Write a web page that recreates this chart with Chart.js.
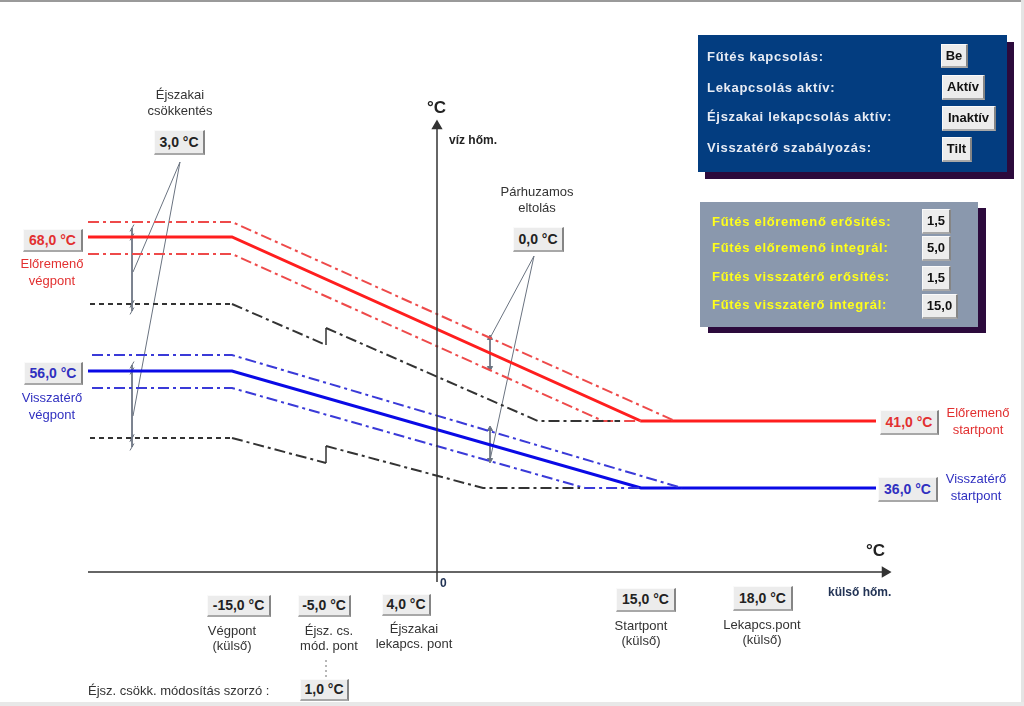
<!DOCTYPE html>
<html>
<head>
<meta charset="utf-8">
<script src="https://cdn.jsdelivr.net/npm/chart.js@4"></script>
<style>
body{margin:0;background:#fff;font-family:Arial,"Liberation Sans",sans-serif;}
#wrap{position:relative;width:1024px;height:706px;overflow:hidden;background:#fff;}
#c{position:absolute;left:0;top:0;}
.ov{position:absolute;white-space:nowrap;}
.txt{font-size:13px;color:#333;text-align:center;line-height:16px;transform:translateX(-50%);}
.btn{position:absolute;box-sizing:border-box;background:#ececec;border-top:1px solid #fafafa;border-left:1px solid #fafafa;border-right:2px solid #858585;border-bottom:2px solid #a8a8a8;font-size:14px;font-weight:bold;color:#222;text-align:center;}
.red{color:#e23030;}
.blue{color:#3030c0;}
.panel{position:absolute;}
.prow{position:absolute;font-size:13px;font-weight:bold;white-space:nowrap;letter-spacing:0.7px;}
</style>
</head>
<body>
<div id="wrap">
<canvas id="c" width="1024" height="706"></canvas>
</div>
<script>
// schematic units of the diagram: 1 unit = 10 px, origin where the two axes cross
var X_MIN = -43.7, X_MAX = 58.7;
var Y_MIN = -13.4, Y_MAX = 57.2;

// outside temperature break points (schematic positions) and their settings
var xMarks = [-20.5, -11.1, -2.9, 20.4, 32.3];
var markValues = ['-15,0 °C', '-5,0 °C', '4,0 °C', '15,0 °C', '18,0 °C'];
var markNames = [['Végpont', '(külső)'], ['Éjsz. cs.', 'mód. pont'], ['Éjszakai', 'lekapcs. pont'], ['Startpont', '(külső)'], ['Lekapcs.pont', '(külső)']];

// supply (előremenő) curve
var supplyX = [-34.9, -20.5, 20.4, 43.9];
var supplyY = [33.5, 33.5, 15.1, 15.1];
var supplyUpX = [-34.9, -20.5, 23.8];
var supplyUpY = [35.0, 35.0, 15.1];
var supplyLoX = [-34.9, -20.5, 16.6, 20.4];
var supplyLoY = [31.8, 31.8, 15.1, 15.1];

// return (visszatérő) curve
var returnX = [-34.9, -20.5, 20.4, 43.9];
var returnY = [20.1, 20.1, 8.4, 8.4];
var returnUpX = [-34.5, -20.5, 24.5];
var returnUpY = [21.7, 21.7, 8.4];
var returnLoX = [-34.5, -20.5, 14.8, 20.4];
var returnLoY = [18.4, 18.4, 8.4, 8.4];

// night reduced curves
var nightSupFlatX = [-34.7, -20.5];
var nightSupFlatY = [26.8, 26.8];
var nightSupX = [-20.5, -11.1];
var nightSupY = [26.8, 22.7];
var nightSupStepY = [22.7, 24.4];
var nightSup2X = [-11.1, 10.1, 18.3];
var nightSup2Y = [24.4, 15.1, 15.1];

var nightRetFlatX = [-34.7, -20.5];
var nightRetFlatY = [13.4, 13.4];
var nightRetX = [-20.5, -11.1];
var nightRetY = [13.4, 10.9];
var nightRetStepY = [10.9, 12.6];
var nightRet2X = [-11.1, 4.6, 14.3];
var nightRet2Y = [12.6, 8.4, 8.4];

// setpoints shown in the boxes
var supplyEnd = '68,0 °C', returnEnd = '56,0 °C';
var supplyStart = '41,0 °C', returnStart = '36,0 °C';
var nightReduction = '3,0 °C', parallelShift = '0,0 °C', nightFactor = '1,0 °C';

var statusNames = ['Fűtés kapcsolás:', 'Lekapcsolás aktív:', 'Éjszakai lekapcsolás aktív:', 'Visszatérő szabályozás:'];
var statusValues = ['Be', 'Aktív', 'Inaktív', 'Tilt'];
var ctrlNames = ['Fűtés előremenő erősítés:', 'Fűtés előremenő integrál:', 'Fűtés visszatérő erősítés:', 'Fűtés visszatérő integrál:'];
var ctrlValues = ['1,5', '5,0', '1,5', '15,0'];

var RED = '#ff1e1e', RED_D = '#ee4a4a', BLUE = '#0a0ae6', BLUE_D = '#3a3ad8', DARK = '#333333', GRID = '#6e6e6e', THIN = '#6a7380';
var DASHDOT = [11, 4, 3, 4];

function line(xs, ys, color, width, dash, extra){
    var ds = {
        data: xs.map(function(x, i){ return {x: x, y: ys[i]}; }),
        borderColor: color,
        backgroundColor: color,
        borderWidth: width,
        borderDash: dash || [],
        pointRadius: 0,
        fill: false
    };
    for (var k in extra){ ds[k] = extra[k]; }
    return ds;
}

var datasets = [];
// vertical dotted markers
for (var i = 0; i < xMarks.length; i++){
    var top = i < 3 ? 35.9 : 18.4;
    datasets.push(line([xMarks[i], xMarks[i]], [top, -1.0], GRID, 1, [2, 3]));
}
datasets.push(line([xMarks[1], xMarks[1]], [-8.8, -10.6], GRID, 1, [2, 3]));

// axes with arrow heads
datasets.push(line([-34.9, 44.8], [0, 0], '#333', 1.5, [], {pointRadius: [0, 5], pointStyle: 'triangle', rotation: 90}));
datasets.push(line([0, 0], [-1.0, 44.6], '#333', 1.5, [], {pointRadius: [0, 5], pointStyle: 'triangle'}));

// night curves
datasets.push(line(nightSupFlatX, nightSupFlatY, DARK, 2, [5, 4]));
datasets.push(line(nightSupX, nightSupY, DARK, 2, DASHDOT));
datasets.push(line([-11.1, -11.1], nightSupStepY, DARK, 1.5));
datasets.push(line(nightSup2X, nightSup2Y, DARK, 2, DASHDOT));
datasets.push(line(nightRetFlatX, nightRetFlatY, DARK, 2, [5, 4]));
datasets.push(line(nightRetX, nightRetY, DARK, 2, DASHDOT));
datasets.push(line([-11.1, -11.1], nightRetStepY, DARK, 1.5));
datasets.push(line(nightRet2X, nightRet2Y, DARK, 2, DASHDOT));

// shifted supply / return curves
datasets.push(line(supplyUpX, supplyUpY, RED_D, 2, DASHDOT));
datasets.push(line(supplyLoX, supplyLoY, RED_D, 2, DASHDOT));
datasets.push(line(returnUpX, returnUpY, BLUE_D, 2, DASHDOT));
datasets.push(line(returnLoX, returnLoY, BLUE_D, 2, DASHDOT));

// main curves
datasets.push(line(supplyX, supplyY, RED, 3));
datasets.push(line(returnX, returnY, BLUE, 3));

// dimension lines for the night reduction
var tick = {pointRadius: 4, pointStyle: 'line', rotation: -60, pointBorderColor: THIN, pointBorderWidth: 1};
datasets.push(line([-30.5, -30.5, -30.5], [34.4, 33.5, 26.1], THIN, 1, [], tick));
datasets.push(line([-30.5, -30.5], [26.8, 26.8], THIN, 1, [], tick));
datasets.push(line([-30.5, -30.5, -30.5], [20.7, 20.1, 12.5], THIN, 1, [], tick));
datasets.push(line([-30.5, -30.5], [13.4, 13.4], THIN, 1, [], tick));
datasets.push(line([-30.4, -25.7, -30.4], [30.0, 41.0, 15.6], THIN, 1));

// dimension lines for the parallel shift
var arr = {pointRadius: [3, 3], pointStyle: 'triangle', rotation: [0, 180], pointBorderColor: THIN, pointBackgroundColor: THIN};
datasets.push(line([5.3, 5.3], [23.4, 20.4], THIN, 1, [], arr));
datasets.push(line([5.3, 5.3], [14.3, 11.2], THIN, 1, [], arr));
datasets.push(line([5.3, 9.7, 5.3], [23.4, 31.6, 11.2], THIN, 1));

var chart = new Chart(document.getElementById('c'), {
    type: 'line',
    data: {datasets: datasets},
    options: {
        responsive: false,
        animation: false,
        events: [],
        layout: {padding: 0, autoPadding: false},
        plugins: {legend: {display: false}, tooltip: {enabled: false}},
        elements: {line: {tension: 0}},
        scales: {
            x: {type: 'linear', display: false, min: X_MIN, max: X_MAX},
            y: {type: 'linear', display: false, min: Y_MIN, max: Y_MAX}
        }
    }
});

// ---- overlay texts ----
var wrap = document.getElementById('wrap');
function el(cls, html, css){
    var d = document.createElement('div');
    d.className = cls;
    d.innerHTML = html;
    d.style.cssText = css;
    wrap.appendChild(d);
    return d;
}
function text(lines, cx, top, extraCls, css){
    return el('ov txt ' + (extraCls || ''), lines.join('<br>'), 'left:' + cx + 'px;top:' + top + 'px;' + (css || ''));
}
function btn(label, l, t, w, h, extraCls, css){
    return el('btn ' + (extraCls || ''), label, 'left:' + l + 'px;top:' + t + 'px;width:' + w + 'px;height:' + h + 'px;line-height:' + (h - 3) + 'px;' + (css || ''));
}

// frame
el('ov', '', 'left:0;top:0;width:1024px;height:2px;background:#9a9a9a;');
el('ov', '', 'left:1021px;top:0;width:3px;height:706px;background:#e4e4e4;');
el('ov', '', 'left:0;top:702px;width:1024px;height:4px;background:#e8e8e8;');

// axis titles
el('ov', '°C', 'left:427px;top:98px;font-size:17px;font-weight:bold;color:#222;');
el('ov', 'víz hőm.', 'left:449px;top:133px;font-size:12px;font-weight:bold;color:#222;');
el('ov', '0', 'left:440px;top:576px;font-size:12px;font-weight:bold;color:#223355;');
el('ov', '°C', 'left:866px;top:541px;font-size:17px;font-weight:bold;color:#222;');
el('ov', 'külső hőm.', 'left:828px;top:585px;font-size:12px;font-weight:bold;color:#223355;');

// night reduction / parallel shift
text(['Éjszakai', 'csökkentés'], 180, 87);
btn(nightReduction, 154, 130, 51, 25);
text(['Párhuzamos', 'eltolás'], 537, 184);
btn(parallelShift, 513, 227, 51, 25);

// end / start points
btn(supplyEnd, 23, 229, 60, 23, 'red');
text(['Előremenő', 'végpont'], 52, 255, 'red', 'line-height:17px;');
btn(returnEnd, 24, 362, 59, 23, 'blue');
text(['Visszatérő', 'végpont'], 52, 389, 'blue', 'line-height:17px;');
btn(supplyStart, 880, 410, 59, 25, 'red');
text(['Előremenő', 'startpont'], 978, 404, 'red', 'line-height:17px;');
btn(returnStart, 878, 477, 60, 25, 'blue');
text(['Visszatérő', 'startpont'], 976, 470, 'blue', 'line-height:17px;');

// outside temperature settings
var markBox = [[207, 595, 64, 22], [298, 595, 53, 22], [382, 594, 49, 22], [616, 588, 60, 24], [733, 586, 60, 25]];
var markText = [[232, 623], [329, 623], [414, 621], [641, 618], [762, 617]];
for (var m = 0; m < markValues.length; m++){
    btn(markValues[m], markBox[m][0], markBox[m][1], markBox[m][2], markBox[m][3]);
    text(markNames[m], markText[m][0], markText[m][1], '', 'line-height:15px;');
}
el('ov', 'Éjsz. csökk. módosítás szorzó :', 'left:88px;top:683px;font-size:13px;color:#333;');
btn(nightFactor, 300, 679, 49, 22);

// status panel
el('panel', '', 'left:698px;top:35px;width:309px;height:137px;background:#033d80;box-shadow:7px 7px 0 #2c0a3c;');
var rowsY = [49, 80, 109, 140];
var boxS = [[941, 44, 27, 24], [942, 75, 43, 25], [942, 106, 54, 25], [942, 137, 30, 25]];
for (var s = 0; s < statusNames.length; s++){
    el('prow', statusNames[s], 'left:707px;top:' + rowsY[s] + 'px;color:#e8ecf4;');
    btn(statusValues[s], boxS[s][0], boxS[s][1], boxS[s][2], boxS[s][3], '', 'font-size:13px;color:#111;');
}

// controller panel
el('panel', '', 'left:700px;top:202px;width:278px;height:125px;background:#8a98ad;box-shadow:8px 6px 0 #2c0a3c;');
var rowsC = [214, 240, 269, 297];
var boxC = [[922, 209, 29, 25], [922, 236, 29, 25], [922, 266, 29, 25], [922, 294, 36, 25]];
for (var r = 0; r < ctrlNames.length; r++){
    el('prow', ctrlNames[r], 'left:712px;top:' + rowsC[r] + 'px;color:#ffff1a;');
    btn(ctrlValues[r], boxC[r][0], boxC[r][1], boxC[r][2], boxC[r][3], '', 'font-size:13px;color:#111;');
}
</script>
</body>
</html>
